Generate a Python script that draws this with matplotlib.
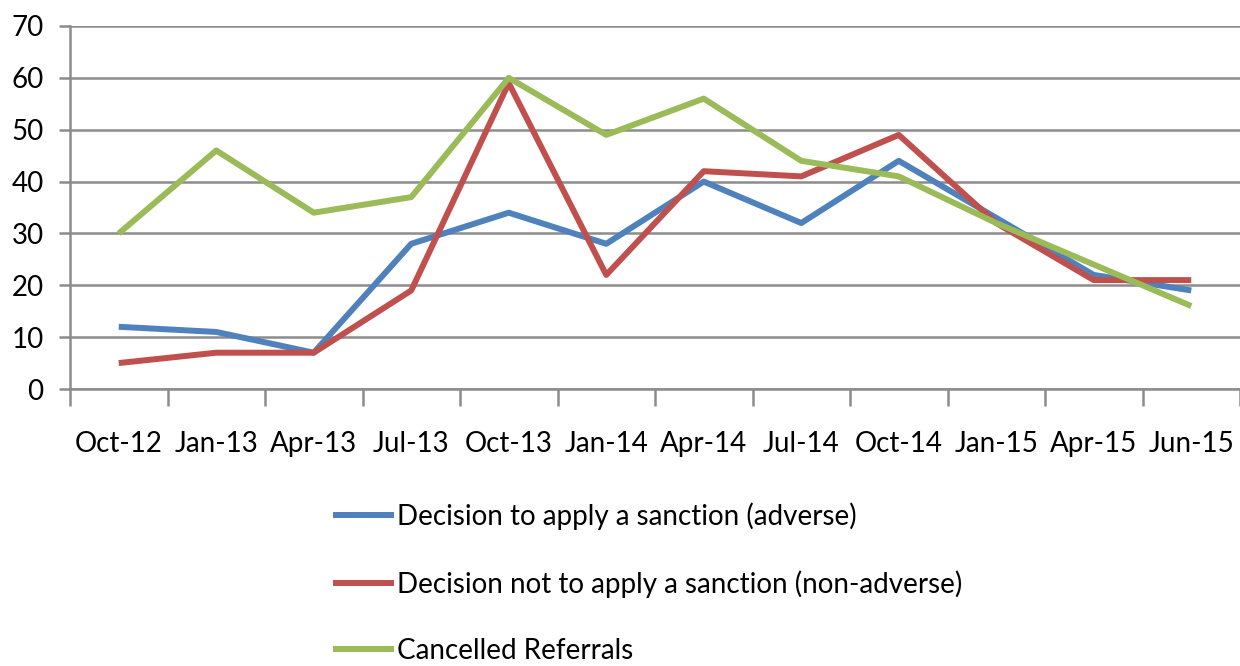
import matplotlib
matplotlib.use("Agg")
import matplotlib.pyplot as plt
import numpy as np

plt.rcParams['font.family'] = ['Lato', 'DejaVu Sans']

quarters = ['Oct-12', 'Jan-13', 'Apr-13', 'Jul-13', 'Oct-13', 'Jan-14',
            'Apr-14', 'Jul-14', 'Oct-14', 'Jan-15', 'Apr-15', 'Jun-15']
adverse = [12, 11, 7, 28, 34, 28, 40, 32, 44, 33, 22, 19]
non_adverse = [5, 7, 7, 19, 59, 22, 42, 41, 49, 32, 21, 21]
cancelled = [30, 46, 34, 37, 60, 49, 56, 44, 41, 32, 24, 16]

series_names = ['Decision to apply a sanction (adverse)',
                'Decision not to apply a sanction (non-adverse)',
                'Cancelled Referrals']
colours = ['#4F81BD', '#C0504D', '#9BBB59']

fig = plt.figure(figsize=(12.4, 6.66), dpi=100)
ax = fig.add_axes([70 / 1240, 1 - 389 / 666, 1170 / 1240, 363 / 666])

x = np.arange(len(quarters))
for vals, name, col in zip([adverse, non_adverse, cancelled], series_names, colours):
    ax.plot(x, vals, color=col, lw=4.3, label=name, solid_capstyle='butt', zorder=3)

ax.set_xlim(-0.5, len(quarters) - 0.5)
ax.set_ylim(0, 70)
ax.set_yticks(range(0, 71, 10))
ax.yaxis.grid(True, color='#8c8c8c', lw=1.8)
ax.set_axisbelow(True)

# category labels between boundary tick marks
ax.set_xticks(np.arange(-0.5, len(quarters), 1.0))
ax.set_xticklabels([])
ax.set_xticks(x, minor=True)
ax.set_xticklabels(quarters, minor=True, fontsize=20)
ax.tick_params(axis='x', which='major', length=12, width=1.8, color='#8c8c8c')
ax.tick_params(axis='x', which='minor', length=0, pad=30)
ax.tick_params(axis='y', length=8, width=1.8, color='#8c8c8c', labelsize=20, pad=11)

for s in ['top', 'right']:
    ax.spines[s].set_visible(False)
ax.spines['left'].set_color('#8c8c8c')
ax.spines['left'].set_linewidth(1.8)
ax.spines['bottom'].set_color('#8c8c8c')
ax.spines['bottom'].set_linewidth(1.8)

fig.legend(loc='center left', bbox_to_anchor=(333 / 1240, 1 - 583 / 666),
           frameon=False, fontsize=20, handlelength=2.2, handletextpad=0.1,
           labelspacing=1.45, borderpad=0, borderaxespad=0)

fig.savefig('out.png', dpi=100)
